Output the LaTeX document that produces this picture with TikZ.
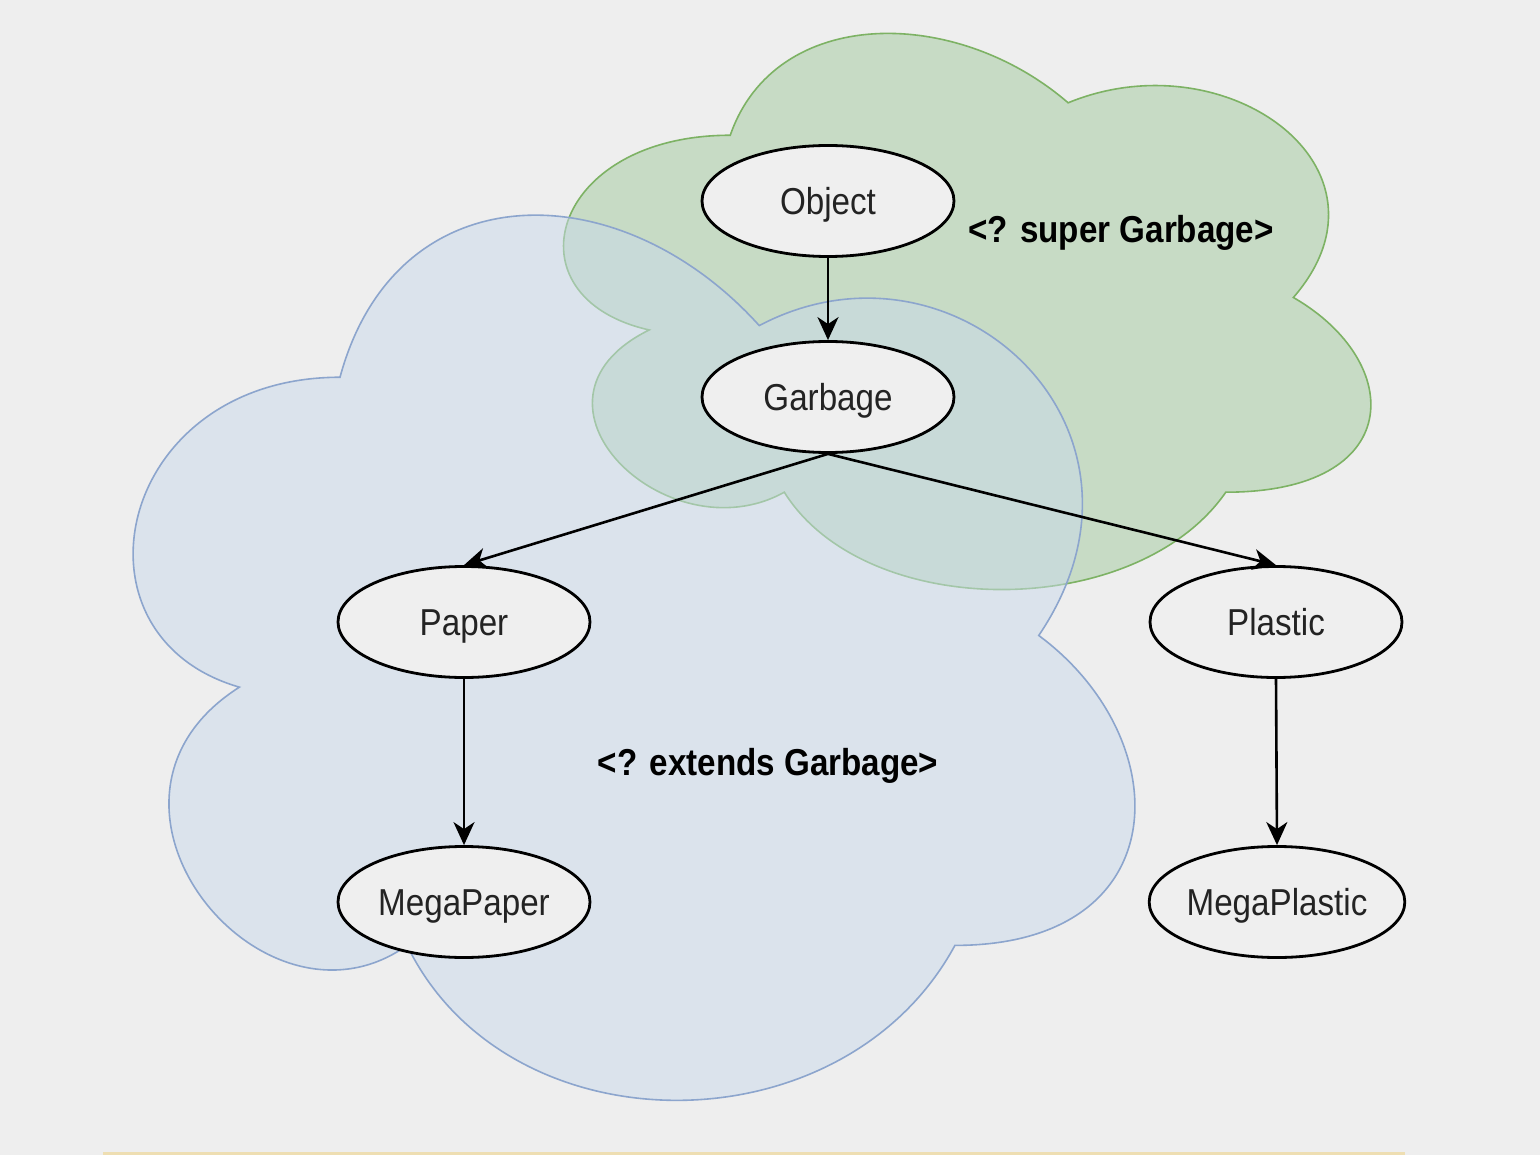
\documentclass[tikz,border=0pt]{standalone}
\usepackage{fontspec}
\setmainfont{Liberation Sans}[FakeStretch=0.885]
\usetikzlibrary{arrows.meta,shapes.geometric}
\definecolor{bgc}{RGB}{238,238,238}
\definecolor{ellfill}{RGB}{239,239,239}
\definecolor{bluefill}{RGB}{202,218,236}
\definecolor{greenfill}{RGB}{162,202,158}
\definecolor{bluestroke}{RGB}{140,165,205}
\definecolor{greenstroke}{RGB}{125,178,100}
\definecolor{txt}{RGB}{35,35,35}
\definecolor{tanline}{RGB}{238,222,178}
\begin{document}
\begin{tikzpicture}[x=1pt,y=-1pt,
  ell/.style={ellipse,draw=black,line width=2.8pt,fill=ellfill,minimum width=252pt,minimum height=111pt,inner sep=0pt,text=txt,text height=30pt,text depth=3pt,font=\fontsize{37.5}{40}\selectfont},
  lbl/.style={text=black,font=\fontsize{37.5}{40}\selectfont\bfseries,inner sep=0pt},
  arr/.style={line width=2.6pt,-{Stealth[length=23pt,width=21pt,inset=7pt]}},
  greencloud/.style={draw=greenstroke,line width=1.6pt,fill=greenfill,fill opacity=0.5},
  bluecloud/.style={draw=bluestroke,line width=1.6pt,fill=bluefill,fill opacity=0.5}]
\fill[bgc] (0,0) rectangle (1540,1155);
\useasboundingbox (0,0) rectangle (1540,1155);
\fill[tanline] (103,1152) rectangle (1405,1155);
% green cloud
\begin{scope}[shift={(505,-27)},xscale=901,yscale=649]
\path[greencloud] (0.25,0.25) .. controls (0.05,0.25) and (0,0.5) .. (0.16,0.55)
  .. controls (0,0.66) and (0.18,0.9) .. (0.31,0.8)
  .. controls (0.4,1) and (0.7,1) .. (0.8,0.8)
  .. controls (1,0.8) and (1,0.6) .. (0.875,0.5)
  .. controls (1,0.3) and (0.8,0.1) .. (0.625,0.2)
  .. controls (0.5,0.05) and (0.3,0.05) .. (0.25,0.25) -- cycle;
\end{scope}
% blue cloud
\begin{scope}[shift={(60.5,119)},xscale=1118,yscale=1033]
\path[bluecloud] (0.25,0.25) .. controls (0.05,0.25) and (0,0.5) .. (0.16,0.55)
  .. controls (0,0.66) and (0.18,0.9) .. (0.31,0.8)
  .. controls (0.4,1) and (0.7,1) .. (0.8,0.8)
  .. controls (1,0.8) and (1,0.6) .. (0.875,0.5)
  .. controls (1,0.3) and (0.8,0.1) .. (0.625,0.2)
  .. controls (0.5,0.05) and (0.3,0.05) .. (0.25,0.25) -- cycle;
\end{scope}
\node[ell] (object) at (828,201) {Object};
\node[ell] (garbage) at (828,397) {Garbage};
\node[ell] (paper) at (464,622) {Paper};
\node[ell] (plastic) at (1276,622) {Plastic};
\node[ell] (megapaper) at (464,902) {MegaPaper};
\node[ell] (megaplastic) at (1277,902) {MegaPlastic};
\node[lbl] (superlbl) at (1121,233) {<? super Garbage>};
\node[lbl] (extendslbl) at (768,766) {<? extends Garbage>};
\draw[arr] (object.south) -- (garbage.north);
\draw[arr] (garbage.south) -- (paper.north);
\draw[arr] (garbage.south) -- (plastic.north);
\draw[arr] (paper.south) -- (megapaper.north);
\draw[arr] (plastic.south) -- (megaplastic.north);
\end{tikzpicture}
\end{document}
